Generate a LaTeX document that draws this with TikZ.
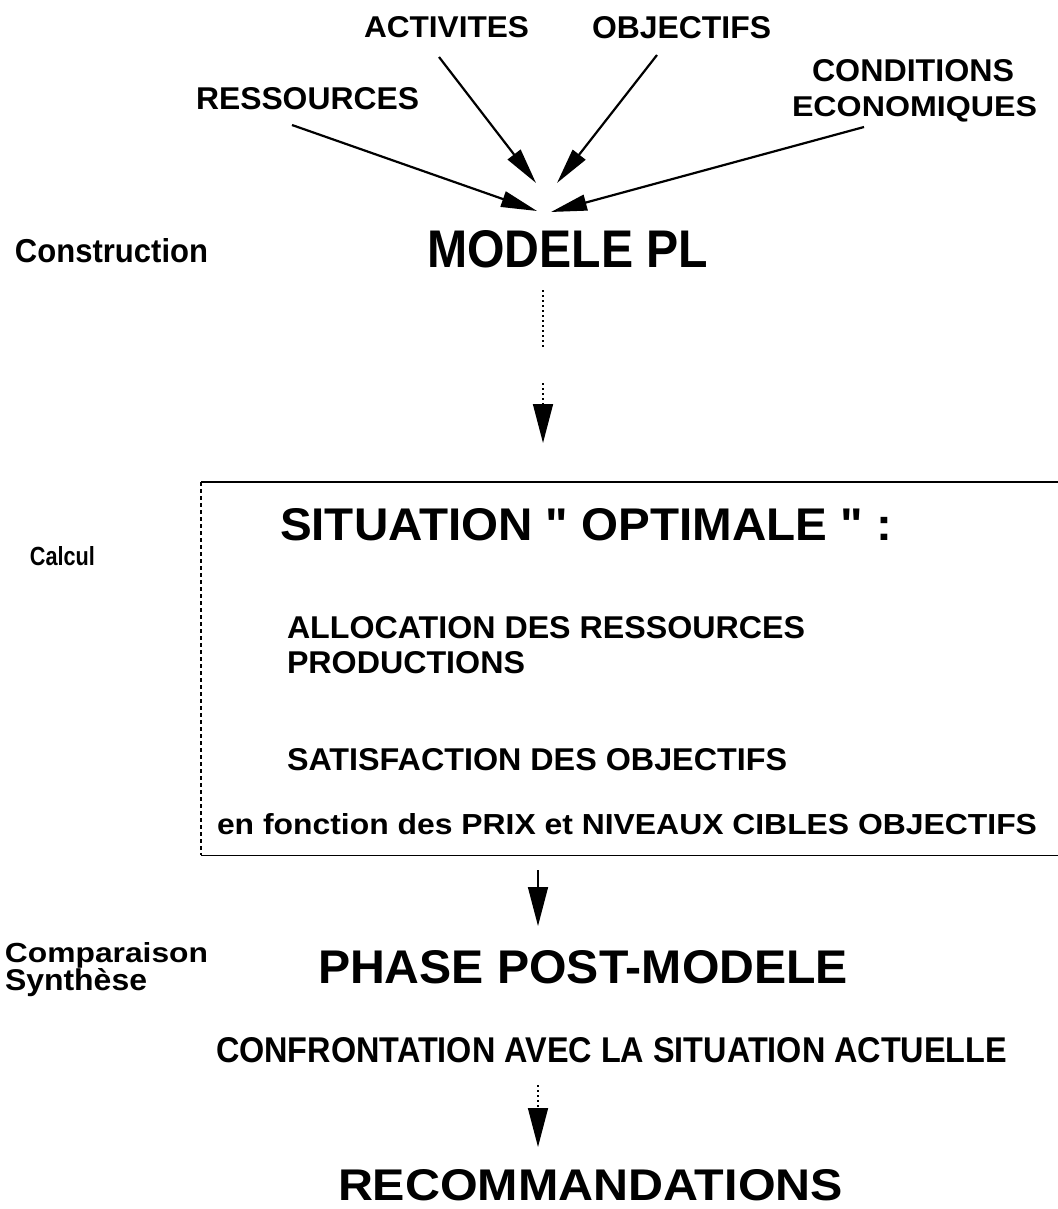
\documentclass[tikz,border=0pt]{standalone}
\usepackage{graphicx}
\usepackage{fontspec}
\setmainfont{Liberation Sans}
\usetikzlibrary{arrows.meta}
% a bold label stretched to a given width and height (in pt)
\newcommand{\lbl}[3]{\resizebox{#1pt}{#2pt}{\bfseries #3}}
\begin{document}
\begin{tikzpicture}[x=1pt,y=-1pt,
  txt/.style={anchor=base west,inner sep=0pt,outer sep=0pt},
  feed/.style={line width=2.2pt,-{Triangle[length=36pt,width=16pt]}},
  flow/.style={line width=1.6pt,-{Triangle[length=39pt,width=20pt]}},
  dotline/.style={line width=1.6pt,dash pattern=on 2pt off 3pt},
  frame/.style={line width=1.7pt}]
\useasboundingbox (0,0) rectangle (1057,1209);

% inputs of the model
\node[txt] (res)  at (196,110) {\lbl{223}{22}{RESSOURCES}};
\node[txt] (act)  at (364,38)  {\lbl{165}{21}{ACTIVITES}};
\node[txt] (obj)  at (592,39)  {\lbl{179}{22}{OBJECTIFS}};
\node[txt] (cond) at (812,82)  {\lbl{202}{22}{CONDITIONS}};
\node[txt] (eco)  at (792,117) {\lbl{245}{20}{ECONOMIQUES}};

\coordinate (resS) at (292,125); \coordinate (resT) at (537,211);
\coordinate (actS) at (439,57);  \coordinate (actT) at (536,183);
\coordinate (objS) at (657,55);  \coordinate (objT) at (557,183);
\coordinate (ecoS) at (864,127); \coordinate (ecoT) at (551,212);
\draw[feed] (resS) -- (resT);
\draw[feed] (actS) -- (actT);
\draw[feed] (objS) -- (objT);
\draw[feed] (ecoS) -- (ecoT);

% stage labels
\node[txt] (constr) at (15,262) {\lbl{193}{24}{Construction}};
\node[txt] (calc)   at (30,565) {\lbl{65}{19}{Calcul}};
\node[txt] (comp)   at (5,962)  {\lbl{203}{20}{Comparaison}};
\node[txt] (synth)  at (5,990)  {\lbl{142}{22}{Synthèse}};

% model
\node[txt] (modele) at (427,267) {\lbl{281}{37}{MODELE PL}};

% optimal situation frame
\node[anchor=north west,inner sep=0pt,minimum width=870pt,minimum height=373pt] (box) at (201,482) {};
\draw[frame] (box.north west) -- (box.north east);
\draw[frame] (box.south west) -- (box.south east);
\draw[line width=1.5pt,dash pattern=on 4pt off 3pt] (box.north west) -- (box.south west);

\node[txt] (sit)   at (280,540) {\lbl{612}{32}{SITUATION \textquotedbl{} OPTIMALE \textquotedbl{} :}};
\node[txt] (alloc) at (287,638) {\lbl{518}{22}{ALLOCATION DES RESSOURCES}};
\node[txt] (prod)  at (287,673) {\lbl{238}{22}{PRODUCTIONS}};
\node[txt] (satis) at (287,770) {\lbl{500}{22}{SATISFACTION DES OBJECTIFS}};
\node[txt] (fonc)  at (217,834) {\lbl{820}{21}{en fonction des PRIX et NIVEAUX CIBLES OBJECTIFS}};

% post-model phase
\node[txt] (phase) at (318,983)  {\lbl{530}{33}{PHASE POST-MODELE}};
\node[txt] (confr) at (216,1062) {\lbl{791}{25}{CONFRONTATION AVEC LA SITUATION ACTUELLE}};
\node[txt] (reco)  at (338,1200) {\lbl{505}{31}{RECOMMANDATIONS}};

% vertical connectors
\coordinate (m1) at (543,290);  \coordinate (m2) at (543,347);
\coordinate (m3) at (543,383);  \coordinate (m4) at (543,443);
\draw[dotline] (m1) -- (m2);
\draw[flow,dotline] (m3) -- (m4);

\coordinate (b1) at (538,870);  \coordinate (b2) at (538,926);
\draw[flow] (b1) -- (b2);

\coordinate (c1) at (538,1085); \coordinate (c2) at (538,1147);
\draw[flow,dotline] (c1) -- (c2);
\end{tikzpicture}
\end{document}
